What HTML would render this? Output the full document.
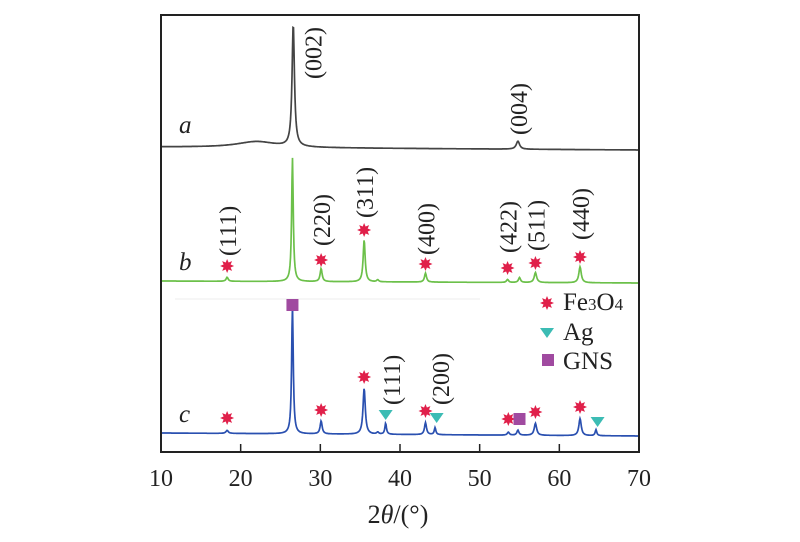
<!DOCTYPE html>
<html><head><meta charset="utf-8"><style>
html,body{margin:0;padding:0;background:#fff;}
svg{display:block;font-family:"Liberation Serif",serif;}
</style></head><body>
<svg id="chart" width="800" height="542"></svg>
<script>
const aPeaks=[26.6,54.8,22.0];
const aHeights=[122,8,6];
const aWidths=[0.18,0.25,3.0];
const bPeaks=[18.3,26.5,30.1,35.5,37.2,43.2,53.5,55.0,57.0,62.6];
const bHeights=[4,124,13,42,2,9,3,5,10,16];
const bWidths=[0.15,0.12,0.15,0.15,0.15,0.15,0.15,0.15,0.18,0.18];
const cPeaks=[18.3,26.5,30.1,35.5,37.2,38.2,43.2,44.4,53.6,54.8,57.0,62.6,64.6];
const cHeights=[3,129,13,46,2,11,12,7,3,5,12,17,6];
const cWidths=[0.18,0.12,0.15,0.17,0.15,0.12,0.15,0.12,0.15,0.15,0.18,0.18,0.12];
const offsets=[305,171,19];
const tilts=[3,2,3];
const xTicks=[10,20,30,40,50,60,70];
const bStars=[[18.3,186],[30.1,192],[35.5,222],[43.2,188],[53.5,184],[57.0,189],[62.6,195]];
const bLabels=[["(111)",18.3,196],["(220)",30.1,206],["(311)",35.5,234],["(400)",43.2,197],["(422)",53.5,199],["(511)",57.0,201],["(440)",62.6,212]];
const cStars=[[18.3,34],[30.1,42],[35.5,75],[43.2,41],[53.6,33],[57.0,40],[62.6,45]];
const cTris=[[38.2,37],[44.6,34],[64.8,30]];
const cSquares=[[26.5,147],[55.0,33]];
const cLabels=[["(111)",38.9,47],["(200)",45.0,47]];
const aLabels=[["(002)",29.0,373],["(004)",54.8,317]];

const L=161,R=639,T=15,B=452;
const X=v=>L+(v-10)*(R-L)/60;
const Y=v=>B-v;
const svg=document.getElementById('chart');
const NS='http://www.w3.org/2000/svg';
function mk(tag,attrs,parent){const e=document.createElementNS(NS,tag);for(const k in attrs)e.setAttribute(k,attrs[k]);(parent||svg).appendChild(e);return e;}

const frame=mk('rect',{x:L,y:T,width:R-L,height:B-T,fill:'none',stroke:'#222','stroke-width':2});



xTicks.forEach(t=>{
  const ln=mk('line',{x1:X(t),x2:X(t),y1:B,y2:B-8,stroke:'#222','stroke-width':1.5});
  
  
  const tx=mk('text',{x:X(t),y:486,'font-size':24,'text-anchor':'middle',fill:'#222'});
  tx.textContent=t;
  
  
});
const xt=mk('text',{x:398,y:523,'font-size':26,'text-anchor':'middle',fill:'#222'});
xt.innerHTML='2<tspan font-style="italic">θ</tspan>/(°)';



const faint=mk('line',{x1:175,x2:480,y1:299,y2:299,stroke:'#eee','stroke-width':1});



function curve(peaks,hs,ws,off,tilt,color,name){
  let d='';
  for(let px=L+1;px<=R-1;px+=0.5){
    const v=10+(px-L)*60/(R-L);
    let s=off-tilt*(v-10)/60;
    for(let i=0;i<peaks.length;i++){const z=(v-peaks[i])/ws[i];s+=hs[i]/(1+z*z);}
    d+=(d?'L':'M')+px.toFixed(1)+','+Y(s).toFixed(1);
  }
  const p=mk('path',{d:d,fill:'none',stroke:color,'stroke-width':1.7});
  
  
}
curve(aPeaks,aHeights,aWidths,offsets[0],tilts[0],'#444','curve-a');
curve(bPeaks,bHeights,bWidths,offsets[1],tilts[1],'#6cc04a','curve-b');
curve(cPeaks,cHeights,cWidths,offsets[2],tilts[2],'#2a50b0','curve-c');

function star(cx,cy,name){
  let pts='';
  for(let i=0;i<16;i++){const r=i%2?3.8:7;const a=i*Math.PI/8;pts+=(cx+r*Math.cos(a)).toFixed(1)+','+(cy+r*Math.sin(a)).toFixed(1)+' ';}
  const p=mk('polygon',{points:pts,fill:'#e0204a'});
  
  
}
function tri(cx,cy,name){
  const p=mk('polygon',{points:`${cx-7},${cy-5} ${cx+7},${cy-5} ${cx},${cy+5}`,fill:'#3cbcb4'});
  
  
}
function sq(cx,cy,name){
  const p=mk('rect',{x:cx-6,y:cy-6,width:12,height:12,fill:'#a04aa0'});
  
  
}
function vlabel(txt,v,h,name){
  const x=X(v)+9,y=Y(h);
  const t=mk('text',{x:x,y:y,'font-size':24,fill:'#222',transform:`rotate(-90 ${x} ${y})`});
  t.textContent=txt;
  
  
}
bStars.forEach(s=>star(X(s[0]),Y(s[1]),'fe3o4-marker-b'));
cStars.forEach(s=>star(X(s[0]),Y(s[1]),'fe3o4-marker-c'));
cTris.forEach(s=>tri(X(s[0]),Y(s[1]),'ag-marker'));
cSquares.forEach(s=>sq(X(s[0]),Y(s[1]),'gns-marker'));
aLabels.forEach(l=>vlabel(l[0],l[1],l[2],'peak-label-a'));
bLabels.forEach(l=>vlabel(l[0],l[1],l[2],'peak-label-b'));
cLabels.forEach(l=>vlabel(l[0],l[1],l[2],'peak-label-c'));

[['a',133],['b',270],['c',422]].forEach(c=>{
  const t=mk('text',{x:179,y:c[1],'font-size':25,'font-style':'italic',fill:'#222'});
  t.textContent=c[0];
  
  
});

star(547,303,'legend-fe3o4-marker');
tri(547,333,'legend-ag-marker');
sq(548,360,'legend-gns-marker');
const l1=mk('text',{x:563,y:310,'font-size':25,fill:'#222'});
l1.innerHTML='Fe<tspan font-size="17">3</tspan>O<tspan font-size="17">4</tspan>';


const l2=mk('text',{x:563,y:340,'font-size':25,fill:'#222'});
l2.textContent='Ag';


const l3=mk('text',{x:563,y:369,'font-size':25,fill:'#222'});
l3.textContent='GNS';


</script>
</body></html>
